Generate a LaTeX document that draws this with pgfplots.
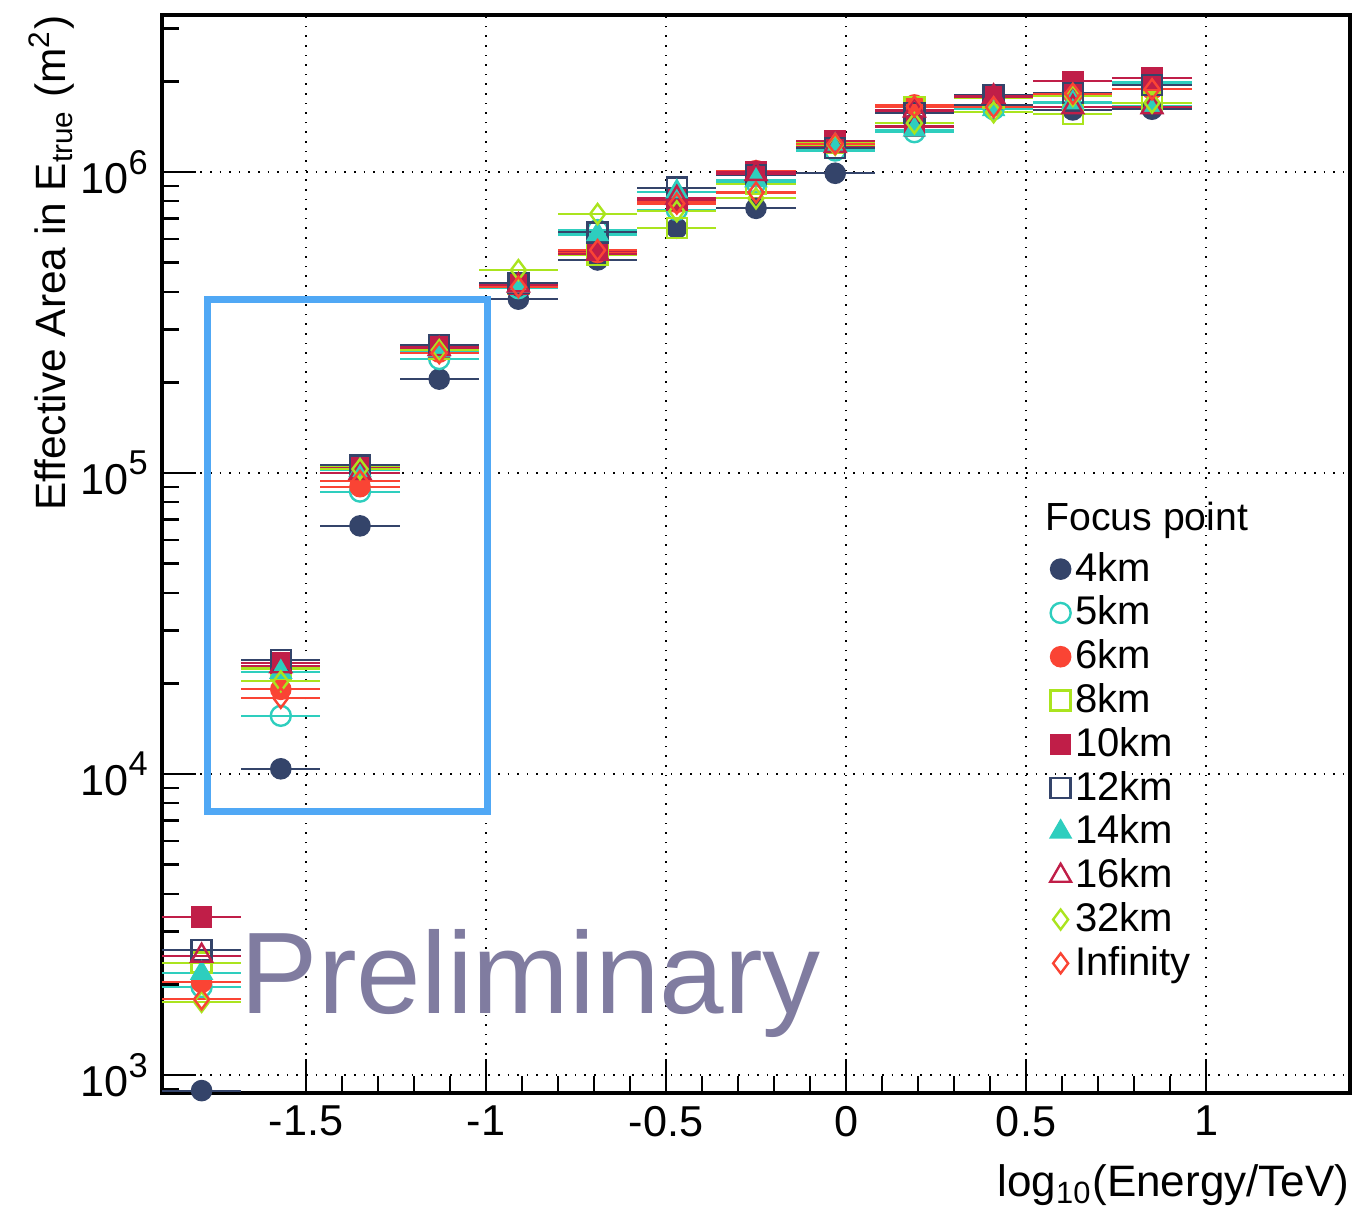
\documentclass[border=0pt]{standalone}
\usepackage{fontspec}
\setmainfont{Liberation Sans}
\usepackage{pgfplots}
\usepackage{pgfplotstable}
\pgfplotsset{compat=1.18}
\definecolor{cnavy}{RGB}{52,68,106}
\definecolor{cturq}{RGB}{46,206,190}
\definecolor{cred}{RGB}{250,68,52}
\definecolor{cyg}{RGB}{170,228,30}
\definecolor{ccrim}{RGB}{192,30,72}
\definecolor{cblue}{RGB}{80,168,245}
\definecolor{cprelim}{RGB}{128,124,160}
\pgfplotstableread{
x      k4      k5      k6      k8      k10     k12     k14     k16     k32     kinf
-1.79  887     1960    2030    2360    3350    2600    2180    2490    1750    1785
-1.57  10400   15600   19100   22400   23400   23900   21800   22800   20300   17900
-1.35  66700   86700   90000   104700  104000  106000  102000  100000  103000  94200
-1.13  205000  239000  252000  259000  262000  266000  255000  258000  256000  250000
-0.91  378000  411000  421000  424000  423000  427000  418000  420000  472000  415000
-0.69  510000  641000  540000  530000  548000  630000  620000  535000  725000  550000
-0.47  650000  748000  793000  650000  807000  887000  860000  820000  740000  785000
-0.25  757000  922000  1010000 910000  1000000 977000  936000  985000  817000  854000
-0.03  990000  1178000 1250000 1251000 1270000 1199000 1230000 1220000 1230000 1240000
0.19   1450000 1355000 1670000 1641000 1415000 1567000 1380000 1600000 1452000 1650000
0.41   1670000 1616000 1804000 1758000 1804000 1804000 1616000 1780000 1578000 1641000
0.63   1607000 1833000 1830000 1560000 2000000 1833000 1700000 1641000 1788000 1820000
0.85   1616000 1982000 1883000 1699000 2047000 1946000 1650000 1641000 1699000 1883000
}\data
\newcommand{\tl}[1]{10\raisebox{0.45em}{\fontsize{8.6}{9}\selectfont #1}}
\begin{document}
\begin{tikzpicture}
\begin{axis}[
  name=ax,
  scale only axis, width=297pt, height=269.5pt,
  xmin=-1.9, xmax=1.4, ymode=log, ymin=871, ymax=3.323e6,
  xtick={-1.5,-1,-0.5,0,0.5,1}, xticklabels={-1.5,-1,-0.5,0,0.5,1},
  minor x tick num=4,
  ytick={1e3,1e4,1e5,1e6}, yticklabels={\tl{3},\tl{4},\tl{5},\tl{6}},
  minor ytick={900,2000,3000,4000,5000,6000,7000,8000,9000,20000,30000,40000,50000,60000,70000,80000,90000,200000,300000,400000,500000,600000,700000,800000,900000,2000000,3000000},
  grid=major, major grid style={dotted, black, line width=0.7pt},
  xtick pos=bottom, ytick pos=left,
  major tick length=8.5pt, minor tick length=4.25pt,
  tick style={black, line width=0.6pt},
  axis line style={line width=0.8pt},
  ticklabel style={font=\fontsize{10.8}{13}\selectfont},
  xticklabel style={yshift=0.3pt},
  xlabel={log\textsubscript{10}(Energy/TeV)},
  ylabel={Effective Area in E\textsubscript{true} (m\textsuperscript{2})},
  label style={font=\fontsize{11}{13}\selectfont},
  xlabel style={at={(axis description cs:1,-0.066)}, anchor=north east, inner sep=0pt},
  ylabel style={at={(axis description cs:-0.093,1)}, anchor=east, inner sep=0pt, font=\fontsize{10.6}{13}\selectfont},
  error bars/x dir=both, error bars/x fixed=0.11, error bars/error mark=none,
  error bars/error bar style={line width=0.55pt},
  every axis plot/.append style={only marks, mark options={line width=0.6pt}},
  legend image code/.code={\draw[#1] plot coordinates {(0.12cm,0cm)};},
  legend style={at={(axis description cs:0.747,0.507)}, anchor=north west, draw=none, fill=none,
    font=\fontsize{10}{12}\selectfont, row sep=0pt, inner sep=0pt,
    nodes={inner sep=1pt, text height=7.45pt, text depth=1.5pt}},
  legend cell align=left,
]
\addplot[cnavy, mark=*, mark size=2.5pt, mark options={fill=cnavy}] table[x=x,y=k4]{\data};
\addlegendentry{4km}
\addplot[cturq, mark=o, mark size=2.5pt] table[x=x,y=k5]{\data};
\addlegendentry{5km}
\addplot[cred, mark=*, mark size=2.5pt, mark options={fill=cred}] table[x=x,y=k6]{\data};
\addlegendentry{6km}
\addplot[cyg, mark=square, mark size=2.5pt] table[x=x,y=k8]{\data};
\addlegendentry{8km}
\addplot[ccrim, mark=square*, mark size=2.5pt, mark options={fill=ccrim}] table[x=x,y=k10]{\data};
\addlegendentry{10km}
\addplot[cnavy, mark=square, mark size=2.5pt] table[x=x,y=k12]{\data};
\addlegendentry{12km}
\addplot[cturq, mark=triangle*, mark size=3pt, mark options={fill=cturq}] table[x=x,y=k14]{\data};
\addlegendentry{14km}
\addplot[ccrim, mark=triangle, mark size=3pt] table[x=x,y=k16]{\data};
\addlegendentry{16km}
\addplot[cyg, mark=diamond, mark size=2.5pt] table[x=x,y=k32]{\data};
\addlegendentry{32km}
\addplot[cred, mark=diamond, mark size=2.5pt] table[x=x,y=kinf]{\data};
\addlegendentry{Infinity}
\draw[cblue, line width=1.75pt] (axis cs:-1.775,7480) rectangle (axis cs:-0.995,3.76e5);
\node[anchor=base west, inner sep=0pt, text=cprelim, font=\fontsize{29}{32}\selectfont] at (rel axis cs:0.0657,0.0742) {Preliminary};
\node[anchor=base west, inner sep=0pt, font=\fontsize{9.8}{12}\selectfont] at (rel axis cs:0.743,0.522) {Focus point};
\end{axis}
\pgfresetboundingbox
\path ([xshift=-40.5pt,yshift=-31.25pt]ax.south west) rectangle ([xshift=3.5pt,yshift=3.75pt]ax.north east);
\end{tikzpicture}
\end{document}
